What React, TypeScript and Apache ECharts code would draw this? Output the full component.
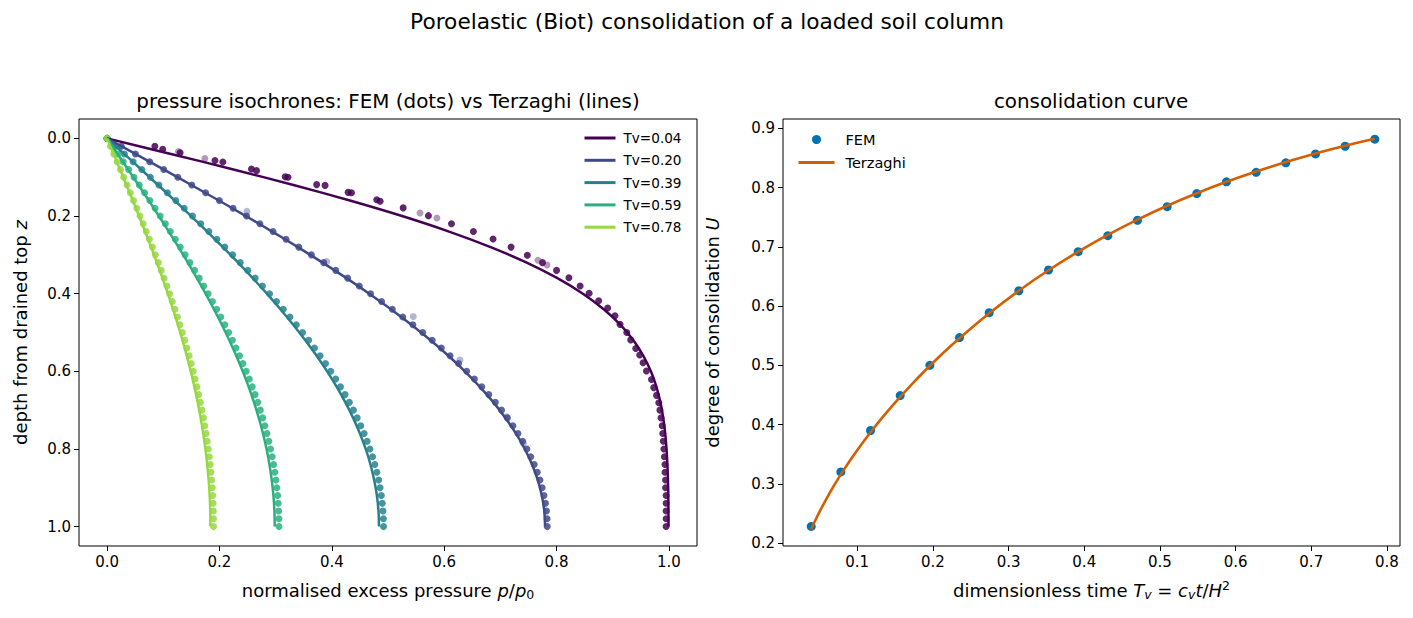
import React, { useEffect, useRef } from "react";
import * as echarts from "echarts";

const FONT = "DejaVu Sans";

// ---------- left panel: isochrones ----------
const TV_LABELS = ["Tv=0.04", "Tv=0.20", "Tv=0.39", "Tv=0.59", "Tv=0.78"];
const TV_COLORS = ["#440154", "#404a89", "#26818e", "#2ab07f", "#95d840"];

// depths of the Terzaghi lines
const Z_LINE = [0, 0.04, 0.08, 0.12, 0.16, 0.2, 0.24, 0.28, 0.32, 0.36, 0.4, 0.44, 0.48, 0.52, 0.56, 0.6, 0.64, 0.68, 0.72, 0.76, 0.8, 0.84, 0.88, 0.92, 0.96, 1.0];

const P_LINE_004 = [0, 0.1136, 0.2249, 0.3317, 0.4322, 0.525, 0.6087, 0.6827, 0.7469, 0.8015, 0.8469, 0.884, 0.9135, 0.9367, 0.9545, 0.9679, 0.9778, 0.9849, 0.9899, 0.9934, 0.9957, 0.9973, 0.9983, 0.9989, 0.9992, 0.9993];
const P_LINE_020 = [0, 0.0503, 0.1004, 0.15, 0.199, 0.247, 0.2939, 0.3396, 0.3836, 0.4261, 0.4667, 0.5052, 0.5416, 0.5758, 0.6075, 0.6369, 0.6636, 0.6877, 0.709, 0.7277, 0.7435, 0.7564, 0.7666, 0.7738, 0.7782, 0.7796];
const P_LINE_039 = [0, 0.0304, 0.0607, 0.0907, 0.1204, 0.1496, 0.1782, 0.2061, 0.2332, 0.2593, 0.2845, 0.3085, 0.3313, 0.3528, 0.3729, 0.3916, 0.4087, 0.4241, 0.4379, 0.45, 0.4603, 0.4688, 0.4754, 0.4802, 0.4831, 0.484];
const P_LINE_059 = [0, 0.0187, 0.0374, 0.0559, 0.0742, 0.0922, 0.1099, 0.1271, 0.1438, 0.1599, 0.1754, 0.1902, 0.2043, 0.2175, 0.2299, 0.2414, 0.252, 0.2615, 0.27, 0.2775, 0.2838, 0.289, 0.2931, 0.2961, 0.2978, 0.2984];
const P_LINE_078 = [0, 0.0116, 0.0231, 0.0345, 0.0458, 0.0569, 0.0677, 0.0783, 0.0886, 0.0986, 0.1082, 0.1173, 0.126, 0.1341, 0.1418, 0.1489, 0.1554, 0.1612, 0.1665, 0.1711, 0.175, 0.1782, 0.1807, 0.1826, 0.1836, 0.184];

// FEM node depths (regular nodes)
const Z_DOT = [0, 0.02, 0.04, 0.06, 0.08, 0.1, 0.12, 0.14, 0.16, 0.18, 0.2, 0.22, 0.24, 0.26, 0.28, 0.3, 0.32, 0.34, 0.36, 0.38, 0.4, 0.42, 0.44, 0.46, 0.48, 0.5, 0.52, 0.54, 0.56, 0.58, 0.6, 0.62, 0.64, 0.66, 0.68, 0.7, 0.72, 0.74, 0.76, 0.78, 0.8, 0.82, 0.84, 0.86, 0.88, 0.9, 0.92, 0.94, 0.96, 0.98, 1.0];

const P_DOT_020 = [0, 0.0253, 0.0505, 0.0758, 0.1009, 0.1259, 0.1507, 0.1754, 0.1999, 0.2242, 0.2482, 0.272, 0.2954, 0.3185, 0.3412, 0.3636, 0.3855, 0.4071, 0.4282, 0.4488, 0.469, 0.4886, 0.5077, 0.5263, 0.5443, 0.5618, 0.5787, 0.5949, 0.6105, 0.6256, 0.64, 0.6538, 0.6669, 0.6793, 0.6911, 0.7021, 0.7125, 0.7223, 0.7313, 0.7396, 0.7472, 0.7541, 0.7602, 0.7657, 0.7704, 0.7744, 0.7777, 0.7803, 0.7821, 0.7832, 0.7835];
const P_DOT_039 = [0, 0.0155, 0.0309, 0.0463, 0.0617, 0.077, 0.0922, 0.1073, 0.1224, 0.1373, 0.152, 0.1667, 0.1811, 0.1954, 0.2095, 0.2234, 0.237, 0.2504, 0.2636, 0.2765, 0.2892, 0.3016, 0.3136, 0.3254, 0.3368, 0.3479, 0.3587, 0.3691, 0.3791, 0.3888, 0.398, 0.4069, 0.4154, 0.4235, 0.4311, 0.4384, 0.4452, 0.4515, 0.4575, 0.4629, 0.4679, 0.4725, 0.4765, 0.4802, 0.4833, 0.4859, 0.4881, 0.4898, 0.491, 0.4918, 0.492];
const P_DOT_059 = [0, 0.0096, 0.0192, 0.0288, 0.0384, 0.0479, 0.0573, 0.0668, 0.0761, 0.0854, 0.0946, 0.1037, 0.1126, 0.1215, 0.1303, 0.1389, 0.1474, 0.1558, 0.164, 0.172, 0.1799, 0.1876, 0.1951, 0.2024, 0.2095, 0.2164, 0.2231, 0.2295, 0.2358, 0.2418, 0.2476, 0.2531, 0.2584, 0.2634, 0.2682, 0.2727, 0.2769, 0.2808, 0.2845, 0.2879, 0.291, 0.2939, 0.2964, 0.2986, 0.3006, 0.3022, 0.3036, 0.3046, 0.3054, 0.3059, 0.306];
const P_DOT_078 = [0, 0.006, 0.0119, 0.0178, 0.0238, 0.0296, 0.0355, 0.0413, 0.0471, 0.0529, 0.0586, 0.0642, 0.0698, 0.0753, 0.0807, 0.086, 0.0913, 0.0965, 0.1015, 0.1065, 0.1114, 0.1161, 0.1208, 0.1253, 0.1297, 0.134, 0.1381, 0.1421, 0.146, 0.1497, 0.1533, 0.1567, 0.16, 0.1631, 0.1661, 0.1688, 0.1715, 0.1739, 0.1762, 0.1783, 0.1802, 0.182, 0.1835, 0.1849, 0.1861, 0.1872, 0.188, 0.1887, 0.1891, 0.1894, 0.1895];

// Tv = 0.04 FEM nodes (irregular depths)
const Z_DOT_004 = [0, 0.02, 0.028, 0.037, 0.057, 0.061, 0.079, 0.083, 0.099, 0.1, 0.119, 0.121, 0.139, 0.14, 0.158, 0.162, 0.179, 0.199, 0.22, 0.24, 0.259, 0.28, 0.301, 0.32, 0.34, 0.359, 0.38, 0.399, 0.418, 0.437, 0.457, 0.479, 0.5, 0.519, 0.541, 0.558, 0.578, 0.599, 0.621, 0.642, 0.662, 0.681, 0.7, 0.72, 0.74, 0.76, 0.78, 0.8, 0.82, 0.84, 0.86, 0.88, 0.9, 0.92, 0.94, 0.96, 0.98, 1.0];
const P_DOT_004 = [0, 0.085, 0.099, 0.13, 0.192, 0.206, 0.257, 0.266, 0.317, 0.322, 0.373, 0.388, 0.429, 0.435, 0.48, 0.486, 0.527, 0.572, 0.613, 0.652, 0.687, 0.719, 0.748, 0.775, 0.8, 0.822, 0.842, 0.858, 0.875, 0.891, 0.904, 0.913, 0.925, 0.932, 0.941, 0.948, 0.954, 0.96, 0.969, 0.973, 0.978, 0.982, 0.984, 0.986, 0.988, 0.989, 0.99, 0.991, 0.992, 0.993, 0.993, 0.994, 0.994, 0.995, 0.995, 0.995, 0.995, 0.995];

// faint (single, non-overlapping) nodes
const Z_FAINT_004 = [0.034, 0.052, 0.192, 0.205, 0.314, 0.326];
const P_FAINT_004 = [0.127, 0.174, 0.557, 0.587, 0.767, 0.783];
const Z_FAINT_020 = [0.188, 0.317, 0.459, 0.571, 0.717, 0.786];
const P_FAINT_020 = [0.249, 0.391, 0.545, 0.628, 0.711, 0.741];

const LEFT_X_TICKS = [0, 0.2, 0.4, 0.6, 0.8, 1.0];
const LEFT_Y_TICKS = [0, 0.2, 0.4, 0.6, 0.8, 1.0];

// ---------- right panel: consolidation curve ----------
const TV_FEM = [0.0392, 0.0784, 0.1176, 0.1568, 0.196, 0.2352, 0.2744, 0.3136, 0.3528, 0.392, 0.4312, 0.4704, 0.5096, 0.5488, 0.588, 0.6272, 0.6664, 0.7056, 0.7448, 0.784];
const U_FEM = [0.228, 0.32, 0.39, 0.449, 0.5, 0.547, 0.589, 0.626, 0.661, 0.692, 0.719, 0.745, 0.768, 0.79, 0.81, 0.826, 0.842, 0.857, 0.87, 0.882];

const TV_TERZ = [0.0392, 0.045, 0.052, 0.06, 0.07, 0.0784, 0.09, 0.1, 0.1176, 0.1372, 0.1568, 0.1764, 0.196, 0.2156, 0.2352, 0.2744, 0.3136, 0.3528, 0.392, 0.4312, 0.4704, 0.5096, 0.5488, 0.588, 0.6272, 0.6664, 0.7056, 0.7448, 0.784];
const U_TERZ = [0.2234, 0.2394, 0.2573, 0.2764, 0.2985, 0.316, 0.3385, 0.3568, 0.387, 0.418, 0.4468, 0.4739, 0.4993, 0.5235, 0.5458, 0.5879, 0.6261, 0.6606, 0.6919, 0.7203, 0.746, 0.7695, 0.7907, 0.81, 0.8275, 0.8434, 0.8578, 0.8709, 0.8828];

const RIGHT_X_TICKS = [0.1, 0.2, 0.3, 0.4, 0.5, 0.6, 0.7, 0.8];
const RIGHT_Y_TICKS = [0.2, 0.3, 0.4, 0.5, 0.6, 0.7, 0.8, 0.9];

const FEM_COLOR = "#0072b2";
const TERZ_COLOR = "#d55e00";

const zip = (xs: number[], ys: number[]) => xs.map((x, i) => [x, ys[i]]);

const TICK_FONT = 15;
const LABEL_FONT = 18;

const richMath = {
  i: { fontFamily: FONT, fontSize: LABEL_FONT, fontStyle: "italic", color: "#000", lineHeight: 22 },
  n: { fontFamily: FONT, fontSize: LABEL_FONT, color: "#000", lineHeight: 22 },
  sub: { fontFamily: FONT, fontSize: 12.5, color: "#000", verticalAlign: "bottom", lineHeight: 10 },
  subi: { fontFamily: FONT, fontSize: 12.5, fontStyle: "italic", color: "#000", verticalAlign: "bottom", lineHeight: 10 },
  sup: { fontFamily: FONT, fontSize: 12.5, color: "#000", verticalAlign: "top", lineHeight: 10 },
};

function valueAxis(gridIndex: number, min: number, max: number, ticks: number[], extra: any) {
  return {
    type: "value",
    gridIndex,
    min,
    max,
    axisLine: { show: false, onZero: false },
    axisTick: { show: true, length: 5, inside: false, customValues: ticks, lineStyle: { color: "#000", width: 1 } },
    axisLabel: {
      customValues: ticks,
      margin: 8,
      color: "#000",
      fontFamily: FONT,
      fontSize: TICK_FONT,
      formatter: (v: number) => v.toFixed(1),
    },
    splitLine: { show: false },
    nameLocation: "middle",
    nameTextStyle: { fontFamily: FONT, fontSize: LABEL_FONT, color: "#000", lineHeight: 22, rich: richMath },
    ...extra,
  };
}

export default function App() {
  const ref = useRef<HTMLDivElement>(null);
  useEffect(() => {
    if (!ref.current) return;
    const chart = echarts.init(ref.current, null, { renderer: "svg" });

    const lineSets = [P_LINE_004, P_LINE_020, P_LINE_039, P_LINE_059, P_LINE_078];
    const dotSets: number[][][] = [
      zip(P_DOT_004, Z_DOT_004),
      zip(P_DOT_020, Z_DOT),
      zip(P_DOT_039, Z_DOT),
      zip(P_DOT_059, Z_DOT),
      zip(P_DOT_078, Z_DOT),
    ];
    const faintSets: (number[][] | null)[] = [zip(P_FAINT_004, Z_FAINT_004), zip(P_FAINT_020, Z_FAINT_020), null, null, null];

    const series: any[] = [];
    lineSets.forEach((p, i) => {
      series.push({
        type: "line",
        name: TV_LABELS[i],
        xAxisIndex: 0,
        yAxisIndex: 0,
        data: zip(p, Z_LINE),
        symbol: "none",
        smooth: 0.3,
        lineStyle: { color: TV_COLORS[i], width: 2.5 },
        itemStyle: { color: TV_COLORS[i] },
      });
      if (faintSets[i]) {
        series.push({
          type: "scatter",
          name: "faint " + TV_LABELS[i],
          xAxisIndex: 0,
          yAxisIndex: 0,
          data: faintSets[i],
          symbolSize: 7,
          itemStyle: { color: TV_COLORS[i], opacity: 0.4 },
        });
      }
      series.push({
        type: "scatter",
        name: "FEM " + TV_LABELS[i],
        xAxisIndex: 0,
        yAxisIndex: 0,
        data: dotSets[i],
        symbolSize: 7,
        itemStyle: { color: TV_COLORS[i], opacity: 0.85 },
      });
    });

    series.push({
      type: "scatter",
      name: "FEM",
      xAxisIndex: 1,
      yAxisIndex: 1,
      data: zip(TV_FEM, U_FEM),
      symbolSize: 9,
      itemStyle: { color: FEM_COLOR, opacity: 1 },
    });
    series.push({
      type: "line",
      name: "Terzaghi",
      xAxisIndex: 1,
      yAxisIndex: 1,
      data: zip(TV_TERZ, U_TERZ),
      symbol: "none",
      smooth: 0.2,
      lineStyle: { color: TERZ_COLOR, width: 2.6 },
      itemStyle: { color: TERZ_COLOR },
    });

    const lineLegendItem = (name: string, color: string) => ({
      name,
      itemStyle: { opacity: 0 },
      lineStyle: { color, width: 3, opacity: 1 },
    });

    const option: any = {
      animation: false,
      backgroundColor: "#fff",
      textStyle: { fontFamily: FONT },
      title: [
        {
          text: "Poroelastic (Biot) consolidation of a loaded soil column",
          left: 707,
          top: 10,
          padding: 0,
          textAlign: "center",
          textStyle: { fontFamily: FONT, fontSize: 21.7, fontWeight: "normal", color: "#000" },
        },
        {
          text: "pressure isochrones: FEM (dots) vs Terzaghi (lines)",
          left: 388,
          top: 91,
          padding: 0,
          textAlign: "center",
          textStyle: { fontFamily: FONT, fontSize: 19.9, fontWeight: "normal", color: "#000" },
        },
        {
          text: "consolidation curve",
          left: 1091,
          top: 91,
          padding: 0,
          textAlign: "center",
          textStyle: { fontFamily: FONT, fontSize: 19.9, fontWeight: "normal", color: "#000" },
        },
      ],
      legend: [
        {
          data: TV_LABELS.map((n, i) => lineLegendItem(n, TV_COLORS[i])),
          orient: "vertical",
          left: 583,
          top: 131,
          padding: 0,
          itemWidth: 31,
          itemHeight: 13,
          itemGap: 8.3,
          textStyle: { fontFamily: FONT, fontSize: 13.6, color: "#000", padding: [0, 0, 0, 3] },
        },
        {
          data: [{ name: "FEM", icon: "circle" }, lineLegendItem("Terzaghi", TERZ_COLOR)],
          orient: "vertical",
          left: 797,
          top: 132,
          padding: 0,
          itemWidth: 36,
          itemHeight: 9,
          itemGap: 8,
          textStyle: { fontFamily: FONT, fontSize: 14.5, color: "#000", padding: [0, 0, 0, 6] },
        },
      ],
      grid: [
        { left: 79, top: 119, width: 618, height: 427, show: true, borderColor: "#000", borderWidth: 1, backgroundColor: "transparent" },
        { left: 783, top: 119, width: 617, height: 427, show: true, borderColor: "#000", borderWidth: 1, backgroundColor: "transparent" },
      ],
      xAxis: [
        valueAxis(0, -0.05, 1.05, LEFT_X_TICKS, {
          name: "normalised excess pressure {i|p}{n|/}{i|p}{sub|0}",
          nameGap: 33,
        }),
        valueAxis(1, 0.0019, 0.8173, RIGHT_X_TICKS, {
          name: "dimensionless time {i|T}{subi|v}{n| = }{i|c}{subi|v}{i|t}{n|/}{i|H}{sup|2}",
          nameGap: 33,
        }),
      ],
      yAxis: [
        valueAxis(0, -0.05, 1.05, LEFT_Y_TICKS, {
          inverse: true,
          name: "depth from drained top {i|z}",
          nameGap: 48,
        }),
        valueAxis(1, 0.195, 0.916, RIGHT_Y_TICKS, {
          name: "degree of consolidation {i|U}",
          nameGap: 60,
        }),
      ],
      series,
    };

    chart.setOption(option);
    return () => chart.dispose();
  }, []);

  return (
    <div
      ref={ref}
      style={{ position: "fixed", left: 0, top: 0, width: 1413, height: 618, background: "#fff" }}
    />
  );
}
